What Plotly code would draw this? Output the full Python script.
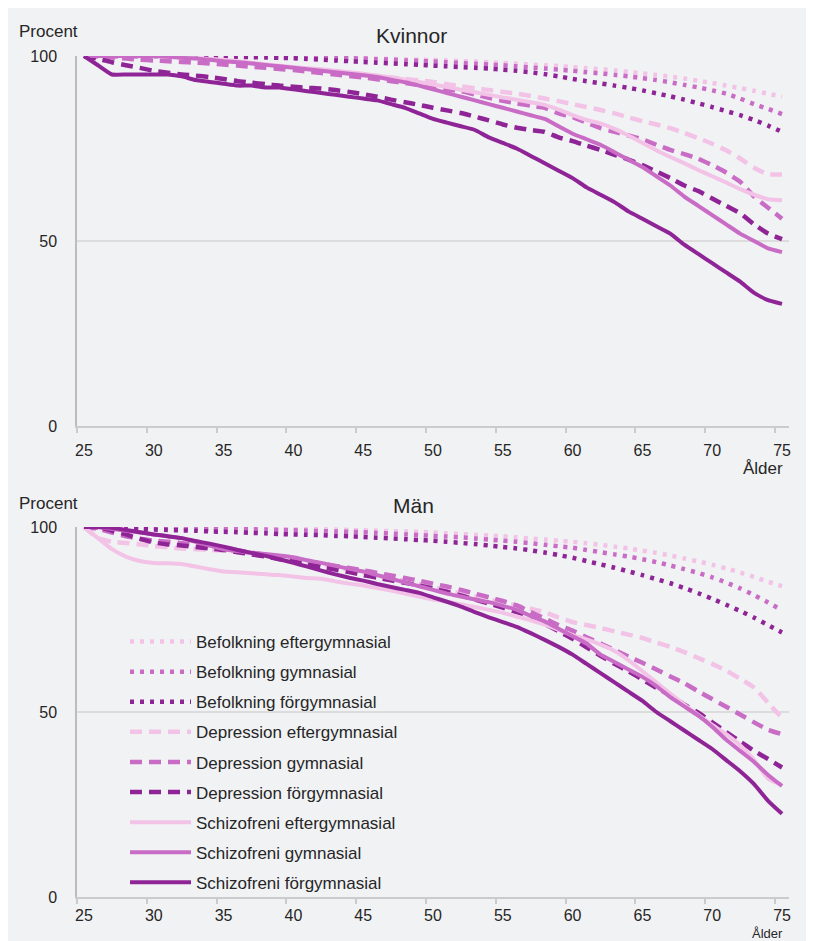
import plotly.graph_objects as go

ages = list(range(25, 76))
tick_ages = [25, 30, 35, 40, 45, 50, 55, 60, 65, 70, 75]
tick_bounds = [24.5, 29.5, 34.5, 39.5, 44.5, 49.5, 54.5, 59.5, 64.5, 69.5, 74.5]

# ---- Kvinnor ----
kv_bef_eft = [100,100,100,100,100,100,100,99.9,99.9,99.9,99.9,99.8,99.8,99.8,99.7,99.7,99.6,99.6,99.5,99.4,99.4,
              99.3,99.2,99.1,99,98.9,98.8,98.6,98.5,98.3,98.1,97.9,97.7,97.5,97.3,97,96.7,96.4,96.1,95.7,95.3,
              94.9,94.4,93.9,93.3,92.7,92,91.3,90.6,89.8,89]
kv_bef_gym = [100,100,100,100,100,100,100,100,100,100,100,99.9,99.9,99.8,99.8,99.7,99.7,99.6,99.5,99.4,99.3,
              99.1,99,98.8,98.7,98.5,98.3,98.1,97.9,97.7,97.5,97.2,96.9,96.6,96.3,96,95.6,95.3,94.9,94.5,94,
              93.5,92.9,92.2,91.5,90.7,89.8,88.5,87,85.7,84.3]
kv_bef_for = [100,100,100,100,100,100,100,100,100,100,100,99.8,99.7,99.6,99.5,99.4,99.2,99,98.8,98.6,98.4,
              98.2,98,97.8,97.6,97.4,97.2,97,96.8,96.6,96.3,96,95.6,95.1,94.5,93.8,93.2,92.6,92,91.4,90.7,
              89.9,89.1,88.2,87.2,86.2,85.1,84,82.7,81.2,79.5]
kv_dep_eft = [100,100,99.8,99.6,99.4,99.2,99,98.8,98.6,98.4,98.2,98,97.7,97.4,97.1,96.8,96.5,96.2,95.8,95.4,95,
              94.6,94.2,93.8,93.4,93,92.4,91.8,91.3,90.8,90.3,89.8,89.2,88.5,87.8,87,86.2,85.4,84.5,83.4,82.4,
              81.5,80.5,79.2,77.8,76.3,74.5,72.3,69.8,68,68]
kv_dep_gym = [100,99.8,99.6,99.3,99,98.8,98.6,98.4,98.2,98,97.7,97.4,97.1,96.8,96.5,96.2,95.8,95.4,95,94.6,94.2,
              93.7,93.2,92.7,92.2,91.5,91,90.5,89.6,88.7,87.9,87.2,86.6,86,84.5,83.5,82,80.5,79.5,78.5,77.5,
              76,74.6,73.5,72.2,70.5,68.5,66,62,59,56]
kv_dep_for = [100,99.3,98.3,97.5,96.8,96,95.5,95,94.7,94.3,93.8,93.2,92.8,92.4,92,91.7,91.4,91.2,90.8,90.3,89.7,
              89,88.2,87.5,86.8,86,85.3,84.6,83.6,82.6,81.5,80.6,80,79.5,78,77,75.8,74.6,73.3,72,70.5,
              68.8,67,65,63.5,61.5,59.5,57.5,54.5,52,50.5]
kv_sch_eft = [100,100,100,100,100,100,99.8,99.6,99.4,99.2,99,98.6,98.2,97.8,97.4,97,96.7,96.4,96,95.6,95.2,
              94.7,94.2,93.6,93,92.3,91.6,90.9,90.2,89.5,88.8,88.2,87.5,86.8,85.5,84,82.7,81.8,80.3,78.5,76.5,
              74.5,72.7,71,69.2,67.5,65.8,64,62.5,61.3,61]
kv_sch_gym = [100,100,100,100,100,100,99.8,99.5,99.3,99,98.6,98.3,98,97.6,97.2,96.8,96.4,96,95.6,95.2,94.8,
              94.3,93.6,92.9,92,91,90,89,88,87,86,85,84,83,81,79,77.5,76,74,72,70,
              67.5,65,62,59.5,57,54.5,52,50,48,47]
kv_sch_for = [100,97.5,95,95,95,95,95,94.5,93.5,93,92.5,92,92,91.5,91.5,91,90.5,90,89.5,89,88.5,
              88,87,86,84.5,83,82,81,80,78,76.5,75,73,71,69,67,64.5,62.5,60.5,58,56,
              54,52,49,46.5,44,41.5,39,36,34,33]

# ---- Män ----
ma_bef_eft = [100,100,100,100,100,99.9,99.9,99.9,99.8,99.8,99.8,99.7,99.7,99.6,99.6,99.5,99.4,99.4,99.3,99.2,99.1,
              99,98.9,98.8,98.7,98.5,98.3,98.1,97.9,97.7,97.5,97.2,96.9,96.6,96.3,96,95.6,95.2,94.7,94.2,93.6,
              93,92.3,91.5,90.7,89.8,88.8,87.7,86.5,85.2,84]
ma_bef_gym = [100,100,99.9,99.9,99.8,99.8,99.7,99.7,99.6,99.6,99.5,99.4,99.4,99.3,99.2,99.1,99,98.9,98.8,98.7,98.6,
              98.4,98.2,98,97.8,97.6,97.4,97.2,96.9,96.6,96.3,96,95.6,95.2,94.8,94.4,93.8,93.2,92.6,92,91.3,
              90.5,89.6,88.6,87.6,86.4,85,83.4,81.6,79.6,77.5]
ma_bef_for = [100,99.9,99.8,99.6,99.5,99.3,99.2,99.1,99,98.8,98.7,98.6,98.4,98.3,98.1,98,97.9,97.8,97.6,97.5,97.3,
              97.1,96.9,96.7,96.5,96.3,96,95.7,95.4,95,94.6,94.2,93.7,93.1,92.4,91.7,90.8,89.9,89,88,87,
              85.9,84.8,83.5,82.1,80.6,79,77.3,75.5,73.5,71.5]
ma_dep_eft = [100,97,96,95.7,95.3,94.8,94.5,94.2,94,93.8,93.6,93.4,93,92.3,91.7,91,90.4,89.8,89.1,88.4,87.7,
              87,86.2,85.4,84.6,83.8,82.9,82,81.2,80.4,79.6,78.8,77.9,77,75.5,74.3,73.5,72.7,71.8,70.9,70,
              68.8,67.6,66.2,64.6,63,61.2,59,56.6,52.5,48.4]
ma_dep_gym = [100,99.5,98.5,97.5,96.8,96.3,96,95.6,95.2,94.8,94.3,93.7,93.1,92.5,91.9,91.3,90.7,90.1,89.5,88.9,88.3,
              87.6,86.9,86.2,85.5,84.7,83.9,83,82,81,80,78.8,77,75.3,73.5,72,70.2,68.5,66.8,65,63.3,
              61.5,59.6,57.8,55.6,53.5,51.4,49.3,47.2,45.2,44]
ma_dep_for = [100,100,99,98,96.8,95.8,95.3,95,94.6,94.2,93.8,93.2,92.6,92,91.3,90.6,89.9,89.2,88.5,87.8,87,
              86.3,85.6,84.9,84.2,83.4,82.5,81.5,80.4,79.3,78.2,77,75.5,73.8,71.8,69.8,67.5,65.2,63,61,58.8,
              56.5,54.5,52,49.8,47.2,44.6,42,39.5,37.3,35]
ma_sch_eft = [100,97,94,92,90.8,90.3,90.2,90,89.3,88.6,88,87.8,87.5,87.2,87,86.6,86.2,86,85.3,84.7,84.2,
              83.5,82.8,82,81.2,80.4,79.8,79.1,78.4,77.6,76.8,75.8,74.8,73.6,72.2,70.8,69.6,68.2,66.5,64,61,
              58,55,52,49.2,46.5,44,41,37,32,30.3]
ma_sch_gym = [100,100,99.5,99,98.5,98,97.5,97,96,95,94,93.5,93,92.7,92.3,91.8,91,90.3,89.5,88.7,88,
              87,86,85,84,83,82,81.2,80.4,79.7,78.7,77.6,76,74.5,72.5,70.5,68.5,65.5,63.5,61.5,59.5,
              57,54,51.5,49,46,42.5,39.5,36.5,33,30]
ma_sch_for = [100,100,99.8,99.2,98.6,98,97.5,97,96.2,95.5,94.7,93.8,93,92.2,91.3,90.3,89.3,88.2,87.2,86.3,85.5,
              84.6,83.8,83,82.2,81,79.8,78.5,77,75.6,74.3,73,71.3,69.5,67.6,65.5,63,60.5,58,55.5,53,
              50,47.5,45,42.5,40,37,34,30.5,26,22.5]

names = ["Befolkning eftergymnasial", "Befolkning gymnasial", "Befolkning förgymnasial",
         "Depression eftergymnasial", "Depression gymnasial", "Depression förgymnasial",
         "Schizofreni eftergymnasial", "Schizofreni gymnasial", "Schizofreni förgymnasial"]
kv_series = [kv_bef_eft, kv_bef_gym, kv_bef_for, kv_dep_eft, kv_dep_gym, kv_dep_for,
             kv_sch_eft, kv_sch_gym, kv_sch_for]
ma_series = [ma_bef_eft, ma_bef_gym, ma_bef_for, ma_dep_eft, ma_dep_gym, ma_dep_for,
             ma_sch_eft, ma_sch_gym, ma_sch_for]

LIGHT, MED, DARK = "#f2c3e6", "#c96cc6", "#8f2497"
colors = [LIGHT, MED, DARK] * 3
dashes = ["4px,6px"] * 3 + ["12px,7px"] * 3 + ["solid"] * 3
widths = [4.5] * 3 + [4.5] * 3 + [4] * 3

BG = "#f1f2f4"
TXT = "#262626"
FONT = "Liberation Sans, Arial, sans-serif"

fig = go.Figure()
for series, xa, ya, show in [(kv_series, "x", "y", False), (ma_series, "x2", "y2", True)]:
    for i, vals in enumerate(series):
        fig.add_trace(go.Scatter(
            x=ages, y=vals, mode="lines", name=names[i], legendgroup=names[i],
            showlegend=show, xaxis=xa, yaxis=ya,
            line=dict(color=colors[i], width=widths[i], dash=dashes[i], shape="spline", smoothing=0.4),
            hoverinfo="skip"))

# reference pixel positions -> paper coords (page body adds an 8px offset)
def px2x(px):
    return (px - 77) / 712

def px2y(py):
    return (897 - py) / 841

def xaxis_style(standoff):
    return dict(range=[24.5, 75.5], tickvals=tick_ages, ticktext=[str(a) for a in tick_ages],
                ticks="", ticklabelstandoff=standoff, showgrid=False, zeroline=False,
                showline=True, linecolor="#cbcbcb", linewidth=1.5,
                tickfont=dict(size=16, color=TXT, family=FONT),
                minor=dict(tickvals=tick_bounds, ticks="outside", ticklen=5, tickcolor="#cbcbcb",
                           tickwidth=1.5, showgrid=False))

ycommon = dict(range=[0, 100], tickvals=[0, 50, 100], ticks="", ticklabelstandoff=15,
               showgrid=True, gridcolor="#dcdcdc", gridwidth=1.5, zeroline=False,
               showline=True, linecolor="#bdbdbd", linewidth=1.5,
               tickfont=dict(size=16, color=TXT, family=FONT))

top_dom = [(841 - 370) / 841, 1.0]
bot_dom = [0.0, 370 / 841]

fig.update_layout(
    width=806, height=933,
    margin=dict(l=69, r=25, t=48, b=44),
    paper_bgcolor=BG, plot_bgcolor=BG,
    font=dict(family=FONT, color=TXT, size=16),
    xaxis=dict(domain=[0, 1], anchor="y", **xaxis_style(9)),
    yaxis=dict(domain=top_dom, anchor="x", **ycommon),
    xaxis2=dict(domain=[0, 1], anchor="y2", **xaxis_style(3)),
    yaxis2=dict(domain=bot_dom, anchor="x2", **ycommon),
    legend=dict(x=px2x(125), y=px2y(624), xanchor="left", yanchor="top",
                bgcolor="rgba(0,0,0,0)", font=dict(size=17, color=TXT, family=FONT),
                tracegroupgap=5, itemwidth=61),
    showlegend=True,
)

ann = [
    ("Procent", 18, 31, "left", 17, "middle"),
    ("Kvinnor", 411, 35, "center", 21, "middle"),
    ("Ålder", 784, 468, "right", 17, "middle"),
    ("Procent", 18, 503, "left", 17, "middle"),
    ("Män", 413, 505, "center", 21, "middle"),
    ("Ålder", 784, 942, "right", 13, "bottom"),
]
for text, x, y, xa, size, ya in ann:
    fig.add_annotation(text=text, xref="paper", yref="paper", x=px2x(x), y=px2y(y),
                       xanchor=xa, yanchor=ya, showarrow=False, borderpad=0,
                       font=dict(size=size, color=TXT, family=FONT))

fig.write_html("out.html")
